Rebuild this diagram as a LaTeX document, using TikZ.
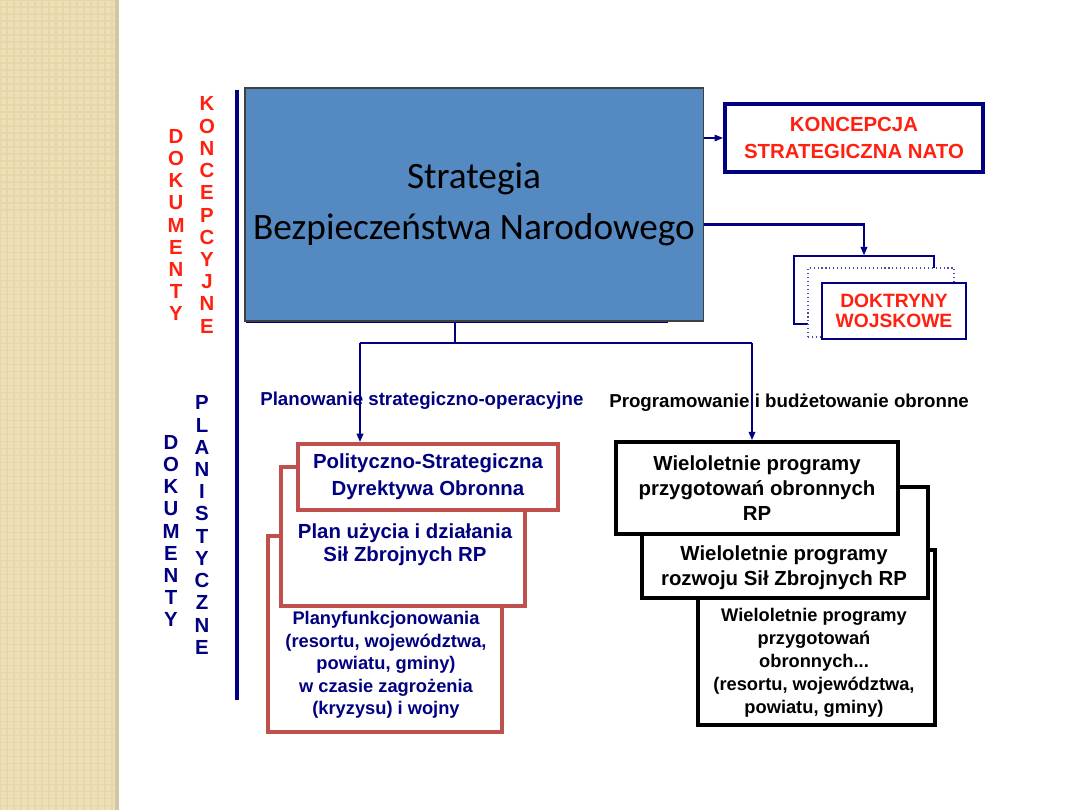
\documentclass[tikz,border=0pt]{standalone}
\usepackage{fontspec}
\setmainfont{Liberation Sans}
\newfontfamily\calibrifont{Carlito}
\usepackage{tikz}
\usetikzlibrary{positioning,arrows.meta,calc}

\definecolor{navy}{RGB}{0,0,128}
\definecolor{docred}{RGB}{255,32,16}
\definecolor{boxred}{RGB}{192,80,77}
\definecolor{mainblue}{RGB}{84,137,193}
\definecolor{sand}{RGB}{239,223,182}
\definecolor{sandline}{RGB}{230,214,170}
\definecolor{sandedge}{RGB}{212,198,162}

\begin{document}
\begin{tikzpicture}[x=0.025cm, y=-0.025cm,
  conn/.style={navy, line width=2pt},
  arrowhead/.style={-{Triangle[length=6pt,width=4.5pt]}},
  redbox/.style={draw=boxred, line width=2.6pt, fill=white, inner sep=0pt},
  blackbox/.style={draw=black, line width=2.4pt, fill=white, inner sep=0pt},
  doctbox/.style={draw=navy, line width=0.8pt, fill=white, inner sep=0pt},
  vletters/.style={align=center, inner sep=0pt, font=\bfseries\fontsize{14.5}{15.8}\selectfont},
  bigtxt/.style={align=center, inner sep=0pt, font=\bfseries\fontsize{14.5}{17.8}\selectfont},
  smalltxt/.style={align=center, inner sep=0pt, font=\bfseries\fontsize{13}{16}\selectfont},
  headtxt/.style={anchor=west, inner sep=0pt, font=\bfseries\fontsize{13.3}{15}\selectfont}
]
\useasboundingbox (0,0) rectangle (1080,810);
% Side strip
\fill[sand] (0,0) rectangle (115,810);
\draw[sandline, step=0.175cm, line width=0.8pt] (0,0) grid (115,810);
\fill[sandedge] (115,0) rectangle (119,810);
% Vertical titles and divider
\draw[navy, line width=3pt] (237,90) -- (237,700);
\node[vletters, docred] (dokK) at (176,225) {D\\O\\K\\U\\M\\E\\N\\T\\Y};
\node[vletters, docred] (konc) at (207,215) {K\\O\\N\\C\\E\\P\\C\\Y\\J\\N\\E};
\node[vletters, navy] (dokP) at (171,531) {D\\O\\K\\U\\M\\E\\N\\T\\Y};
\node[vletters, navy] (plan) at (202,525) {P\\L\\A\\N\\I\\S\\T\\Y\\C\\Z\\N\\E};
% Strategy box
\node[draw=black!75, line width=0.8pt, fill=mainblue, inner sep=0pt,
  minimum width=11.45cm, minimum height=5.825cm, align=center,
  font=\calibrifont\fontsize{26.5}{36}\selectfont]
  (main) at (474,204.5) {Strategia\\Bezpieczeństwa Narodowego};
\draw[navy, line width=1.2pt] (246,322.5) -- (668,322.5);
% NATO concept
\node[draw=navy, line width=2.6pt, inner sep=0pt, minimum width=6.45cm,
  minimum height=1.7cm, text=docred, align=center,
  font=\bfseries\fontsize{14.5}{19}\selectfont]
  (koncepcja) at (854,138) {KONCEPCJA\\STRATEGICZNA NATO};
% Military doctrines
\node[doctbox, minimum width=3.5cm, minimum height=1.7cm] (dokt1) at (864,290) {};
\node[doctbox, dotted, draw=navy!70, minimum width=3.65cm, minimum height=1.725cm]
  (dokt2) at (881,302.5) {};
\node[doctbox, line width=1.2pt, minimum width=3.6cm, minimum height=1.4cm,
  text=docred, align=center, font=\bfseries\fontsize{13.7}{14.2}\selectfont]
  (dokt3) at (894,311) {DOKTRYNY\\WOJSKOWE};
% Planning documents (left)
\node[redbox, minimum width=5.85cm, minimum height=4.9cm] (planC) at (385,634) {};
\node[redbox, minimum width=6.1cm, minimum height=3.475cm] (planB) at (403,536.5) {};
\node[redbox, minimum width=6.5cm, minimum height=1.65cm, text=navy, align=center,
  font=\bfseries\fontsize{14.5}{19}\selectfont]
  (polA) at (428,477) {Polityczno-Strategiczna\\Dyrektywa Obronna};
\node[bigtxt, navy, font=\bfseries\fontsize{14.5}{16.4}\selectfont] (planBtxt) at (405,545)
  {Plan użycia i działania\\Sił Zbrojnych RP};
\node[smalltxt, navy] (planCtxt) at (386,665)
  {Planyfunkcjonowania\\(resortu, województwa,\\powiatu, gminy)\\w czasie zagrożenia\\(kryzysu) i wojny};
% Programmes (right)
\node[blackbox, minimum width=5.925cm, minimum height=4.375cm] (wpC) at (816.5,637.5) {};
\node[blackbox, minimum width=7.15cm, minimum height=2.775cm] (wpB) at (785,542.5) {};
\node[blackbox, minimum width=7.05cm, minimum height=2.3cm, align=center,
  font=\bfseries\fontsize{14.5}{17.8}\selectfont]
  (wpA) at (757,488) {Wieloletnie programy\\przygotowań obronnych\\RP};
\node[bigtxt] (wpBtxt) at (784,568) {Wieloletnie programy\\rozwoju Sił Zbrojnych RP};
\node[smalltxt, font=\bfseries\fontsize{13}{16.4}\selectfont] (wpCtxt) at (814,663)
  {Wieloletnie programy\\przygotowań\\obronnych...\\(resortu, województwa,\\powiatu, gminy)};
% Connectors
\coordinate (split) at (455,343);
\coordinate (splitL) at (360,343);
\coordinate (splitR) at (752,343);
\draw[navy, line width=1.2pt, arrowhead] (koncepcja.west -| main.east) -- (koncepcja.west);
\draw[conn, arrowhead] ([yshift=-14pt]main.east) -| (dokt1.north);
\draw[conn] (main.south -| split) -- (split);
\draw[conn] (splitL) -- (splitR);
\draw[conn, arrowhead] (splitL) -- (splitL |- polA.north);
\draw[conn, arrowhead] (splitR) -- (splitR |- wpA.north);
% Branch titles
\node[headtxt, navy] (planlab) at (260,401) {Planowanie strategiczno-operacyjne};
\node[headtxt] (proglab) at (609,403) {Programowanie i budżetowanie obronne};
\end{tikzpicture}
\end{document}
